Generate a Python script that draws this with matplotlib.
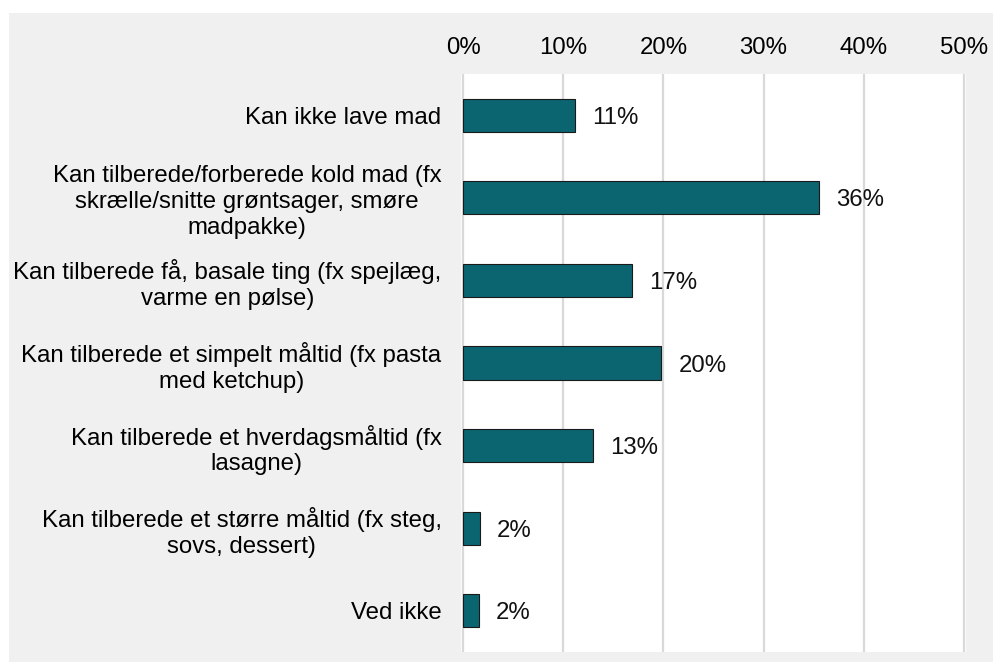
import matplotlib.pyplot as plt
from matplotlib.patches import Rectangle

# === Data ===
labels = [
    "Kan ikke lave mad",
    "Kan tilberede/forberede kold mad (fx\nskrælle/snitte grøntsager, smøre\nmadpakke)",
    "Kan tilberede få, basale ting (fx spejlæg,\nvarme en pølse)",
    "Kan tilberede et simpelt måltid (fx pasta\nmed ketchup)",
    "Kan tilberede et hverdagsmåltid (fx\nlasagne)",
    "Kan tilberede et større måltid (fx steg,\nsovs, dessert)",
    "Ved ikke",
]
values = [11.2, 35.5, 16.9, 19.8, 13.0, 1.7, 1.6]
value_labels = ["11%", "36%", "17%", "20%", "13%", "2%", "2%"]
ticks = [0, 10, 20, 30, 40, 50]
tick_labels = ["0%", "10%", "20%", "30%", "40%", "50%"]

plt.rcParams['font.family'] = ['Liberation Sans', 'DejaVu Sans']
FS = 17.3

W, H = 993, 662
fig = plt.figure(figsize=(W / 100, H / 100), dpi=100, facecolor="white")

# gray panel behind everything
bg = Rectangle((9 / W, 0), 1, (H - 13) / H, transform=fig.transFigure,
               facecolor="#f0f0f0", edgecolor="none", zorder=-10)
fig.add_artist(bg)

ax = fig.add_axes([461 / W, (H - 652) / H, (966 - 461) / W, (652 - 74) / H])
ax.set_facecolor("white")

y = list(range(len(labels)))
ax.barh(y, values, height=0.40, color="#0a6570", edgecolor="#1a1a1a", linewidth=0.8, zorder=3)

for yi, v, t in zip(y, values, value_labels):
    ax.text(v + 1.7, yi, t, va="center_baseline", ha="left", fontsize=FS, color="#111111")

ax.set_xlim(-0.2, 50.2)
ax.set_ylim(len(labels) - 0.5, -0.5)
ax.set_xticks(ticks)
ax.set_xticklabels(tick_labels, fontsize=FS)
ax.xaxis.tick_top()
ax.tick_params(axis="x", length=0, pad=11)
ax.set_yticks(y)
ax.set_yticklabels(labels, fontsize=FS, multialignment="center", linespacing=1.22)
ax.tick_params(axis="y", length=0, pad=14)

ax.grid(axis="x", color="#d9d9d9", linewidth=1.6, zorder=0)
ax.set_axisbelow(True)
for s in ax.spines.values():
    s.set_visible(False)

fig.savefig("out.png", dpi=100, facecolor=fig.get_facecolor())
